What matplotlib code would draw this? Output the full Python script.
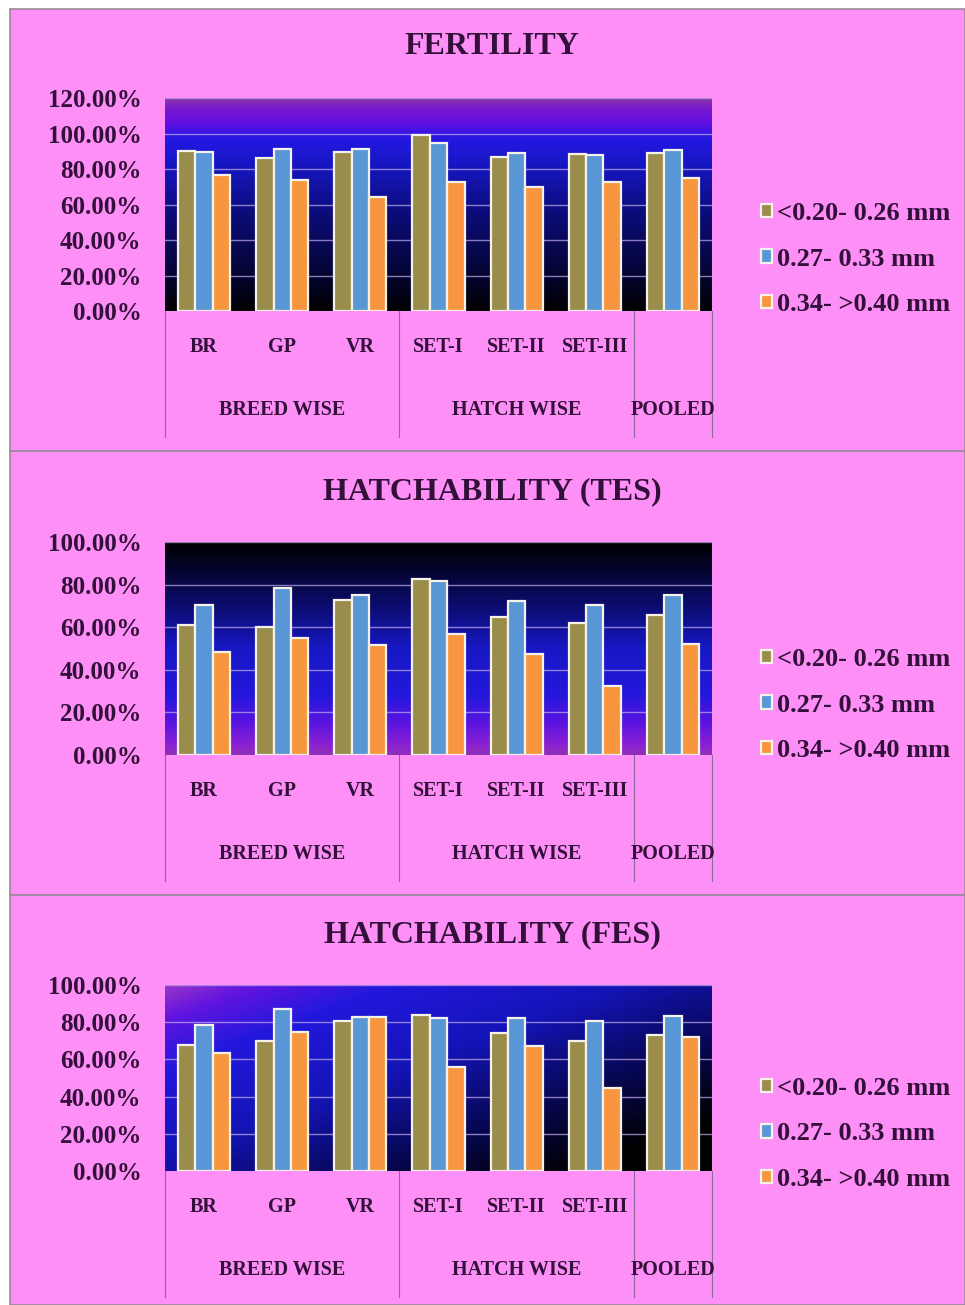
import numpy as np
import matplotlib
matplotlib.use("Agg")
import matplotlib.pyplot as plt
from matplotlib.colors import LinearSegmentedColormap
from matplotlib.patches import Rectangle
from matplotlib.lines import Line2D

# data
sub_labels = ["BR", "GP", "VR", "SET-I", "SET-II", "SET-III", ""]
groups = [("BREED WISE", 0, 2), ("HATCH WISE", 3, 5), ("POOLED", 6, 6)]
series_names = ["<0.20- 0.26 mm", "0.27- 0.33 mm", "0.34- >0.40 mm"]

fert_a = [90.2, 86.1, 89.7, 99.2, 86.8, 88.2, 89.1]
fert_b = [89.7, 91.5, 91.2, 94.9, 89.1, 87.8, 90.6]
fert_c = [76.7, 73.7, 64.3, 72.4, 70.1, 72.4, 75.2]

tes_a = [60.9, 60.2, 73.0, 82.5, 64.7, 62.2, 65.6]
tes_b = [70.3, 78.6, 75.3, 81.7, 72.2, 70.3, 75.3]
tes_c = [48.4, 55.0, 51.6, 56.9, 47.3, 32.5, 51.9]

fes_a = [67.7, 70.1, 80.6, 83.9, 74.0, 69.9, 73.1]
fes_b = [78.5, 86.9, 83.0, 82.1, 82.1, 80.8, 83.5]
fes_c = [63.3, 74.9, 83.0, 56.1, 67.4, 44.4, 72.2]

bar_colors = ["#9A8C4A", "#5896D6", "#F7963F"]
pink = "#FD8FF7"
txt = "#33103A"
serif = "Liberation Serif"

W, H = 965, 1305
fig = plt.figure(figsize=(W / 100, H / 100), dpi=100)
fig.patch.set_facecolor("white")

def fx(px):
    return px / W

def fy(py):
    return 1 - py / H

# panel backgrounds (top, bottom in px)
panels = [(9, 451), (451, 895), (895, 1305)]
for top, bot in panels:
    fig.patches.append(Rectangle((fx(10), fy(bot)), 1 - fx(10), (bot - top) / H,
                                 transform=fig.transFigure, facecolor=pink,
                                 edgecolor="#9a8a9a", lw=1.2, zorder=-5))

cmap_up = LinearSegmentedColormap.from_list("up", [
    (0.0, "#000000"), (0.2, "#05053a"), (0.45, "#0c0c78"), (0.68, "#1616c0"),
    (0.8, "#2218e0"), (0.84, "#3a14e4"), (0.88, "#6010e4"), (0.95, "#7818d0"),
    (1.0, "#8a38a8")])
cmap_down = LinearSegmentedColormap.from_list("down", [
    (0.0, "#000000"), (0.12, "#04042a"), (0.3, "#0c0c70"), (0.5, "#1717c4"),
    (0.72, "#2418dc"), (0.85, "#5a14e0"), (0.95, "#8a20d4"), (1.0, "#9030b8")])
cmap_diag = LinearSegmentedColormap.from_list("diag", [
    (0.0, "#000000"), (0.25, "#08085a"), (0.5, "#1414b8"), (0.75, "#2218dc"),
    (0.9, "#6014e0"), (1.0, "#9a34c8")])

def panel(title, title_y, ax_top, ax_bot, ymax, a, b, c, mode, leg_y):
    ax = fig.add_axes([fx(165), fy(ax_bot), fx(712 - 165), (ax_bot - ax_top) / H])
    ax.patch.set_visible(False)
    n = len(sub_labels)
    x = np.arange(n)
    # gradient plot area
    if mode == "up":
        g = np.linspace(1, 0, 256).reshape(-1, 1)
        cm = cmap_up
    elif mode == "down":
        g = np.linspace(0, 1, 256).reshape(-1, 1)
        cm = cmap_down
    else:
        yy, xx = np.mgrid[0:1:200j, 0:1:300j]
        g = np.clip(1 - (0.6 * xx + 0.55 * yy), 0, 1)
        cm = cmap_diag
    ax.imshow(g, extent=[-0.5, n - 0.5, 0, ymax], aspect="auto", cmap=cm,
              vmin=0, vmax=1, zorder=0, interpolation="bilinear")
    ticks = np.arange(0, ymax + 1, 20)
    for t in ticks[1:]:
        ax.axhline(t, color="#b9a6e6", lw=1.0, alpha=0.75, zorder=1)
    w = 1 / 4.5
    for k, vals in enumerate([a, b, c]):
        ax.bar(x + (k - 1) * w, vals, w, color=bar_colors[k], edgecolor="#f4f2ea",
               lw=1.6, zorder=3, label=series_names[k])
    ax.set_xlim(-0.5, n - 0.5)
    ax.set_ylim(0, ymax)
    for s in ax.spines.values():
        s.set_visible(False)
    ax.set_xticks([])
    ax.set_yticks(ticks)
    ax.set_yticklabels(["{:.2f}%".format(t) for t in ticks], fontfamily=serif,
                       fontweight="bold", fontsize=18, color=txt)
    ax.tick_params(axis="y", length=0, pad=17)
    # multi level category axis
    hpx = ax_bot - ax_top
    tr = ax.get_xaxis_transform()
    for i, lab in enumerate(sub_labels):
        ax.text(i, -36 / hpx, lab, transform=tr, ha="center", va="center",
                fontfamily=serif, fontweight="bold", fontsize=14.5, color=txt)
    for name, i0, i1 in groups:
        ax.text((i0 + i1) / 2, -99 / hpx, name, transform=tr, ha="center", va="center",
                fontfamily=serif, fontweight="bold", fontsize=14.5, color=txt)
    for xs in [-0.5, 2.5, 5.5, 6.5]:
        ax.add_line(Line2D([xs, xs], [0, -126 / hpx], transform=tr, color="#8a6a9a",
                           lw=0.8, clip_on=False))
    fig.text(fx(492), fy(title_y), title, ha="center", va="center",
             fontfamily=serif, fontweight="bold", fontsize=23, color=txt)
    fig.legend(*ax.get_legend_handles_labels(), loc="center left",
               bbox_to_anchor=(fx(748), fy(leg_y)), frameon=False,
               prop={"family": serif, "weight": "bold", "size": 19},
               labelcolor=txt, handlelength=0.4, handleheight=0.4,
               handletextpad=0.2, labelspacing=0.85, borderpad=0)

panel("FERTILITY", 47, 98, 311, 120, fert_a, fert_b, fert_c, "up", 259)
panel("HATCHABILITY (TES)", 492, 542, 755, 100, tes_a, tes_b, tes_c, "down", 705)
panel("HATCHABILITY (FES)", 935, 985, 1171, 100, fes_a, fes_b, fes_c, "diag", 1134)

fig.savefig("out.png", dpi=100, facecolor=fig.get_facecolor())
